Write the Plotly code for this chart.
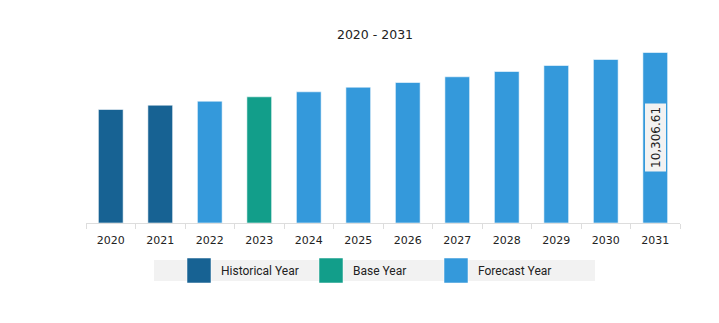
import plotly.graph_objects as go

# Market size by year
years = ["2020", "2021", "2022", "2023", "2024", "2025",
         "2026", "2027", "2028", "2029", "2030", "2031"]
values = [6861, 7121, 7363, 7629, 7931, 8209,
          8493, 8838, 9158, 9521, 9884, 10306.61]
year_types = ["Historical Year", "Historical Year", "Forecast Year", "Base Year",
              "Forecast Year", "Forecast Year", "Forecast Year", "Forecast Year",
              "Forecast Year", "Forecast Year", "Forecast Year", "Forecast Year"]

legend_names = ["Historical Year", "Base Year", "Forecast Year"]
palette = {"Historical Year": "#176293",
           "Base Year": "#129e8a",
           "Forecast Year": "#3499db"}

W, H = 719, 323
plot_left, plot_right = 86, 680
plot_top, plot_bottom = 50, 223
plot_w = plot_right - plot_left
plot_h = plot_bottom - plot_top

fig = go.Figure()
fig.add_trace(go.Bar(
    x=years,
    y=values,
    width=0.5,
    marker=dict(color=[palette[t] for t in year_types],
                line=dict(color="rgba(255,255,255,0.55)", width=1)),
    hoverinfo="x+y",
    showlegend=False,
))

# Value label on the last bar (x given as category index)
last_value = values[-1]
fig.add_annotation(
    x=len(years) - 1, y=last_value / 2, xref="x", yref="y",
    text=f"{last_value:,.2f}", textangle=-90, showarrow=False,
    font=dict(family="DejaVu Sans", size=12, color="#222222"),
    bgcolor="#f2f2f2", borderpad=3,
)

# Legend strip drawn beneath the axis, positioned in pixels
def px_x(v):
    return (v - plot_left) / plot_w

def px_y(v):
    return (plot_bottom - v) / plot_h

shapes = [dict(type="rect", xref="paper", yref="paper",
               x0=px_x(154), x1=px_x(595), y0=px_y(281), y1=px_y(260),
               fillcolor="#f2f2f2", line=dict(width=0), layer="below")]
swatch_x = [187, 319, 444]
for name, sx in zip(legend_names, swatch_x):
    shapes.append(dict(type="rect", xref="paper", yref="paper",
                       x0=px_x(sx), x1=px_x(sx + 24), y0=px_y(283), y1=px_y(258),
                       fillcolor=palette[name],
                       line=dict(color="rgba(255,255,255,0.5)", width=1)))
    fig.add_annotation(x=px_x(sx + 32), y=px_y(270.5), xref="paper", yref="paper",
                       xanchor="left", yanchor="middle", showarrow=False,
                       text=name, font=dict(family="Roboto", size=12, color="#222222"))

fig.update_layout(
    width=W, height=H,
    margin=dict(l=plot_left, r=W - plot_right, t=plot_top, b=H - plot_bottom),
    paper_bgcolor="white", plot_bgcolor="white",
    shapes=shapes,
    title=dict(text="2020 - 2031", x=375 / W, xanchor="center",
               y=1 - 35 / H, yanchor="middle",
               font=dict(family="DejaVu Sans", size=12.5, color="#222222")),
    xaxis=dict(type="category", range=[-0.5, len(years) - 0.5],
               showline=True, linecolor="#dddddd", linewidth=1,
               ticks="outside", tickson="boundaries", ticklen=5, tickcolor="#dddddd",
               ticklabelstandoff=7,
               tickfont=dict(family="DejaVu Sans", size=11, color="#222222"),
               tickangle=0, showgrid=False, fixedrange=True),
    yaxis=dict(visible=False, range=[0, last_value * plot_h / 170.5],
               fixedrange=True),
)

fig.write_html("out.html")
